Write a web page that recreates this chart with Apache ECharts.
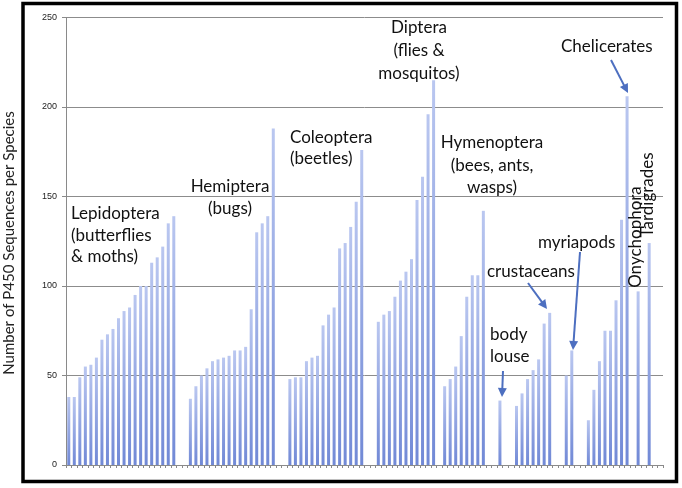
<!DOCTYPE html>
<html>
<head>
<meta charset="utf-8">
<script src="https://cdn.jsdelivr.net/npm/echarts@6/dist/echarts.min.js"></script>
<style>
html,body{margin:0;padding:0;background:#fff;}
#chart{width:682px;height:488px;}
</style>
</head>
<body>
<div id="chart"></div>
<script>
// P450 sequences per species, by group (left to right)
const lepidoptera = [38,38,49,55,56,60,70,73,76,82,86,88,95,100,100,113,116,122,135,139];
const hemiptera = [37,44,50,54,58,59,60,61,64,64,66,87,130,135,139,188];
const coleoptera = [48,49,49,58,60,61,78,84,88,121,124,133,147,176];
const diptera = [80,84,86,94,103,108,115,148,161,196,215];
const hymenoptera = [44,48,55,72,94,106,106,142];
const bodyLouse = [36];
const crustaceans = [33,40,48,53,59,79,85];
const myriapods = [50,64];
const chelicerates = [25,42,58,75,75,92,137,206];
const onychophora = [97];
const tardigrades = [124];
// empty category slots following each group
const gapsAfter = [2,2,2,1,2,2,2,2,1,1,2];
const yTicks = [0,50,100,150,200,250];
const yTitle = 'Number of P450 Sequences per Species';

const groups = [lepidoptera,hemiptera,coleoptera,diptera,hymenoptera,bodyLouse,crustaceans,myriapods,chelicerates,onychophora,tardigrades];
const values = [];
groups.forEach((g,i)=>{ g.forEach(v=>values.push(v)); for(let k=0;k<gapsAfter[i];k++) values.push(null); });
const categories = values.map((v,i)=>'c'+i);

const chart = echarts.init(document.getElementById('chart'), null, {renderer:'canvas'});
const FONT = 'Lato, "Liberation Sans", sans-serif';

function textLines(lines, x, y, align, lh, size){
  return lines.map((t,i)=>({type:'text', z:100, style:{text:t, x:x, y:y+i*lh, align:align, verticalAlign:'middle', font:'400 '+(size||17)+'px '+FONT, fill:'#111'}}));
}
function arrow(x1,y1,x2,y2){
  const dx=x2-x1, dy=y2-y1, L=Math.hypot(dx,dy), ux=dx/L, uy=dy/L, nx=-uy, ny=ux;
  const hl=9, hw=4.5;
  const bx=x2-ux*hl, by=y2-uy*hl;
  return [
    {type:'line', z:100, shape:{x1:x1,y1:y1,x2:x2-ux*hl*0.7,y2:y2-uy*hl*0.7}, style:{stroke:'#4d6fc0', lineWidth:2}},
    {type:'polygon', z:100, shape:{points:[[x2,y2],[bx+nx*hw,by+ny*hw],[bx-nx*hw,by-ny*hw]]}, style:{fill:'#4d6fc0'}}
  ];
}

const graphics = [].concat(
  textLines(['Lepidoptera','(butterflies','& moths)'], 71, 214, 'left', 21.5),
  textLines(['Hemiptera','(bugs)'], 230, 187, 'center', 22),
  textLines(['Coleoptera','(beetles)'], 290, 138, 'left', 20.5),
  textLines(['Diptera','(flies &','mosquitos)'], 419, 28, 'center', 23),
  textLines(['Hymenoptera','(bees, ants,','wasps)'], 492, 143, 'center', 22.5),
  textLines(['crustaceans'], 487, 272, 'left', 22),
  textLines(['myriapods'], 538, 243, 'left', 22),
  textLines(['body','louse'], 490, 335, 'left', 22),
  textLines(['Chelicerates'], 561, 47, 'left', 22),
  [
    {type:'text', z:100, x:636, y:237, rotation:Math.PI/2, style:{text:'Onychophora', x:0, y:0, align:'center', verticalAlign:'middle', font:'400 17px '+FONT, fill:'#111'}},
    {type:'text', z:100, x:648, y:195, rotation:Math.PI/2, style:{text:'Tardigrades', x:0, y:0, align:'center', verticalAlign:'middle', font:'400 17px '+FONT, fill:'#111'}},
    {type:'text', z:100, x:9, y:243, rotation:Math.PI/2, style:{text:yTitle, x:0, y:0, align:'center', verticalAlign:'middle', font:'400 15px '+FONT, fill:'#222'}},
    {type:'rect', z:100, shape:{x:23, y:3.5, width:653.5, height:478}, style:{fill:'none', stroke:'#000', lineWidth:3.5}}
  ],
  arrow(528,283,547,309),
  arrow(580,252,573,350),
  arrow(503,371,502,397),
  arrow(611,60,628,93)
);

chart.setOption({
  animation:false,
  backgroundColor:'#fff',
  grid:{left:66, top:17.5, width:597, height:447.5, containLabel:false},
  xAxis:{
    type:'category', data:categories, boundaryGap:true,
    axisLine:{show:true, lineStyle:{color:'#8a8a8a', width:1}},
    axisTick:{show:true, interval:0, length:3, lineStyle:{color:'#8a8a8a'}},
    axisLabel:{show:false}, splitLine:{show:false}
  },
  yAxis:{
    type:'value', min:yTicks[0], max:yTicks[yTicks.length-1], interval:50,
    axisLine:{show:true, lineStyle:{color:'#8a8a8a', width:1}},
    axisTick:{show:true, inside:false, length:4, lineStyle:{color:'#8a8a8a'}},
    axisLabel:{color:'#222', fontSize:9, fontFamily:'"Liberation Sans", Arial, sans-serif', margin:9},
    splitLine:{show:true, lineStyle:{color:'#8c8c8c', width:1}}
  },
  series:[{
    type:'bar', data:values, barWidth:3,
    itemStyle:{color:new echarts.graphic.LinearGradient(0,0,0,1,[{offset:0,color:'#bac7f0'},{offset:1,color:'#7189d6'}])}
  }],
  graphic:graphics
});
</script>
</body>
</html>
